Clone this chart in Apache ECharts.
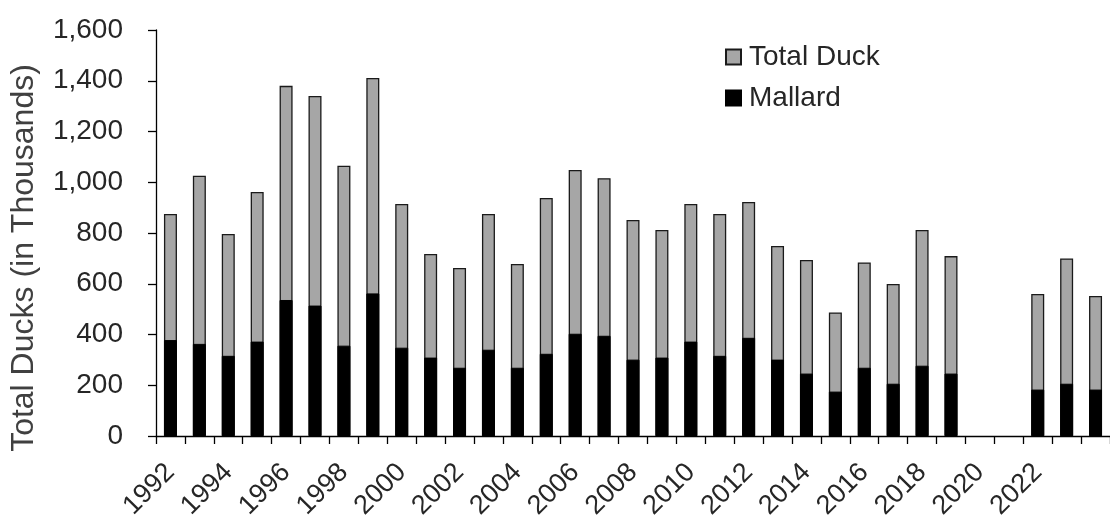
<!DOCTYPE html>
<html>
<head>
<meta charset="utf-8">
<script src="https://cdn.jsdelivr.net/npm/echarts@6/dist/echarts.min.js"></script>
<style>
html,body{margin:0;padding:0;background:#fff;}
#chart{width:1110px;height:523px;}
</style>
</head>
<body>
<div id="chart"></div>
<script>
var years = ['1992','1993','1994','1995','1996','1997','1998','1999','2000','2001','2002','2003','2004','2005','2006','2007','2008','2009','2010','2011','2012','2013','2014','2015','2016','2017','2018','2019','2020','2021','2022','2023','2024'];
var totalDuck = [875,1026,796,962,1380,1340,1065,1411,914,717,662,875,678,938,1048,1016,851,812,914,875,922,749,694,487,684,599,812,709,null,null,560,700,552];
var mallard = [378,363,316,372,536,514,356,562,348,309,269,340,269,324,403,395,301,309,372,316,387,301,246,175,269,206,277,246,null,null,183,206,183];
var yTicks = [0,200,400,600,800,1000,1200,1400,1600];

var chart = echarts.init(document.getElementById('chart'), null, {renderer:'canvas'});
var font = 'Liberation Sans, Arial, sans-serif';
chart.setOption({
  animation:false,
  backgroundColor:'#fff',
  textStyle:{fontFamily:font},
  grid:{left:155, right:-9, top:30, bottom:87, containLabel:false},
  legend:{
    orient:'vertical', left:720, top:38, itemWidth:15, itemHeight:15, itemGap:13,
    icon:'rect',
    textStyle:{fontSize:28, color:'#262626', fontFamily:font, padding:[0,0,0,3]},
    data:['Total Duck','Mallard']
  },
  xAxis:{
    type:'category', data:years,
    axisLine:{lineStyle:{color:'#000', width:1.3}},
    axisTick:{show:true, alignWithLabel:false, interval:0, length:8, lineStyle:{color:'#000', width:1.3}},
    axisLabel:{
      interval:function(i){return i%2===0 && i<32;},
      rotate:45, fontSize:27, color:'#262626', fontFamily:font, margin:32
    }
  },
  yAxis:{
    type:'value', min:0, max:1600, interval:200,
    name:'Total Ducks (in Thousands)', nameLocation:'middle', nameGap:116,
    nameTextStyle:{fontSize:32, color:'#404040', fontFamily:font, padding:[0,50,0,0]},
    splitLine:{show:false},
    axisLine:{show:true, lineStyle:{color:'#000', width:1.3}},
    axisTick:{show:true, length:8, lineStyle:{color:'#000', width:1.3}},
    axisLabel:{fontSize:28, color:'#262626', fontFamily:font, margin:33,
      formatter:function(v){return v.toLocaleString('en-US');}}
  },
  series:[
    {name:'Total Duck', type:'bar', data:totalDuck, barWidth:13, barGap:'-100%',
     itemStyle:{color:'#a6a6a6', borderColor:'#1a1a1a', borderWidth:1.3}},
    {name:'Mallard', type:'bar', data:mallard, barWidth:13,
     itemStyle:{color:'#000', borderColor:'#000', borderWidth:1}}
  ]
});
</script>
</body>
</html>
